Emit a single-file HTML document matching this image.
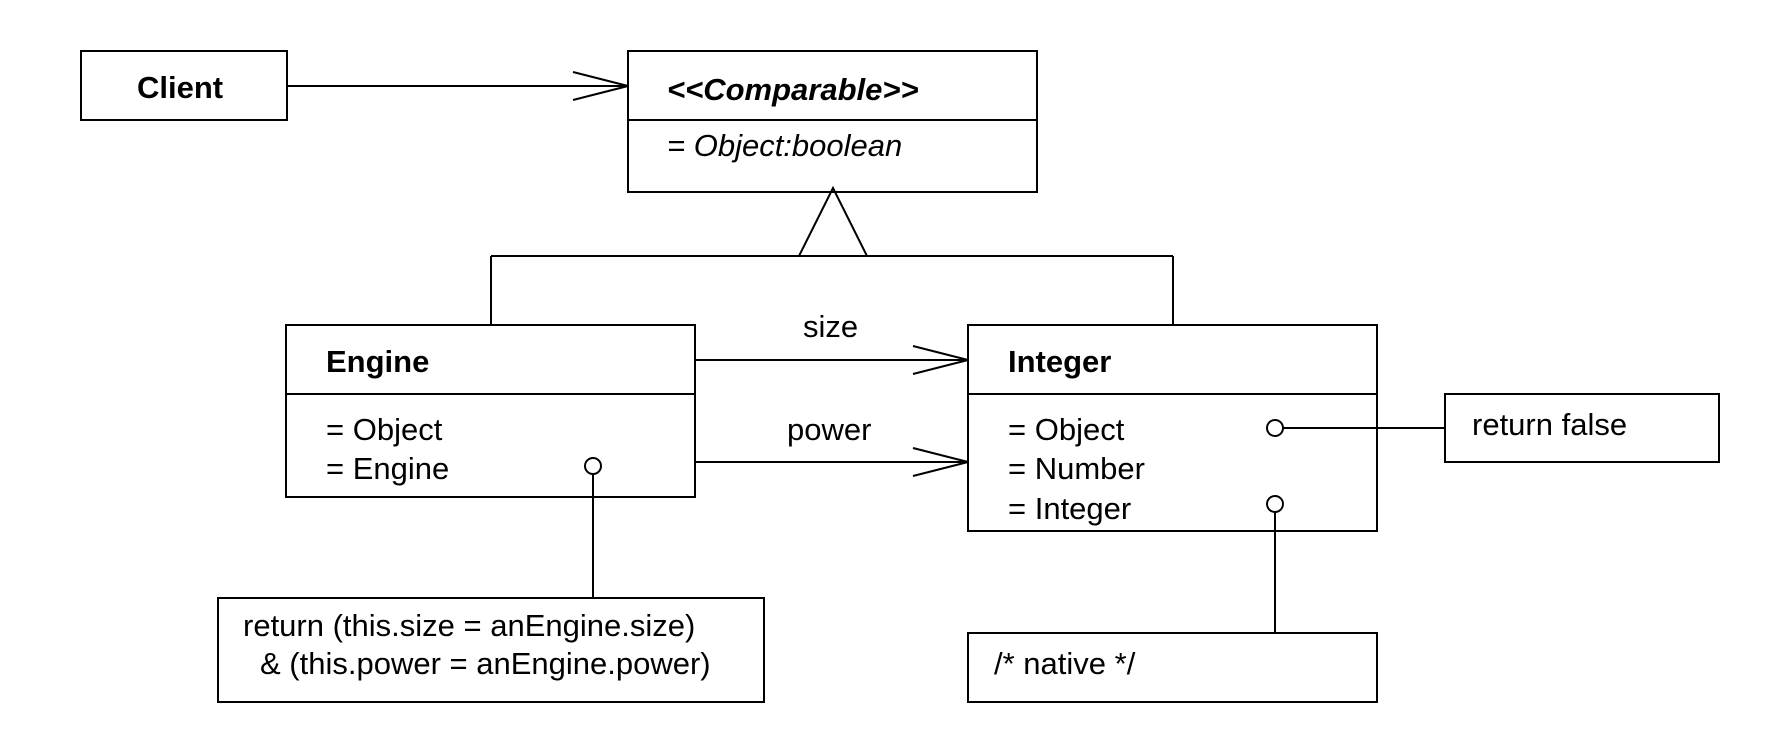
<!DOCTYPE html>
<html><head><meta charset="utf-8"><style>
html,body{margin:0;padding:0;background:#fff;}
svg{display:block;}
text{font-family:"Liberation Sans",sans-serif;font-size:31px;fill:#000;}
.b{font-weight:bold;}
.i{font-style:italic;}
</style></head><body>
<svg width="1782" height="735" viewBox="0 0 1782 735" xmlns="http://www.w3.org/2000/svg">
<g fill="none" stroke="#000" stroke-width="2">
<rect x="81" y="51" width="206" height="69"/>
<rect x="628" y="51" width="409" height="141"/>
<line x1="628" y1="120" x2="1037" y2="120"/>
<line x1="287" y1="86" x2="628" y2="86"/>
<polyline points="573,72 628,86 573,100"/>
<polyline points="799,256 833,188 867,256"/>
<line x1="491" y1="256" x2="1173" y2="256"/>
<line x1="491" y1="256" x2="491" y2="325"/>
<line x1="1173" y1="256" x2="1173" y2="325"/>
<rect x="286" y="325" width="409" height="172"/>
<line x1="286" y1="394" x2="695" y2="394"/>
<rect x="968" y="325" width="409" height="206"/>
<line x1="968" y1="394" x2="1377" y2="394"/>
<line x1="695" y1="360" x2="968" y2="360"/>
<polyline points="913,346 968,360 913,374"/>
<line x1="695" y1="462" x2="968" y2="462"/>
<polyline points="913,448 968,462 913,476"/>
<circle cx="593" cy="466" r="8"/>
<line x1="593" y1="474" x2="593" y2="598"/>
<rect x="218" y="598" width="546" height="104"/>
<circle cx="1275" cy="428" r="8"/>
<line x1="1283" y1="428" x2="1445" y2="428"/>
<rect x="1445" y="394" width="274" height="68"/>
<circle cx="1275" cy="504" r="8"/>
<line x1="1275" y1="512" x2="1275" y2="633"/>
<rect x="968" y="633" width="409" height="69"/>
</g>
<text x="137" y="98" class="b">Client</text>
<text x="667" y="100" class="b i">&lt;&lt;Comparable&gt;&gt;</text>
<text x="667" y="156" class="i">= Object:boolean</text>
<text x="803" y="337">size</text>
<text x="787" y="440">power</text>
<text x="326" y="372" class="b">Engine</text>
<text x="326" y="440">= Object</text>
<text x="326" y="479">= Engine</text>
<text x="1008" y="372" class="b">Integer</text>
<text x="1008" y="440">= Object</text>
<text x="1008" y="479">= Number</text>
<text x="1008" y="519">= Integer</text>
<text x="1472" y="435">return false</text>
<text x="243" y="636">return (this.size = anEngine.size)</text>
<text x="260" y="674">&amp; (this.power = anEngine.power)</text>
<text x="994" y="674">/* native */</text>
</svg>
</body></html>
